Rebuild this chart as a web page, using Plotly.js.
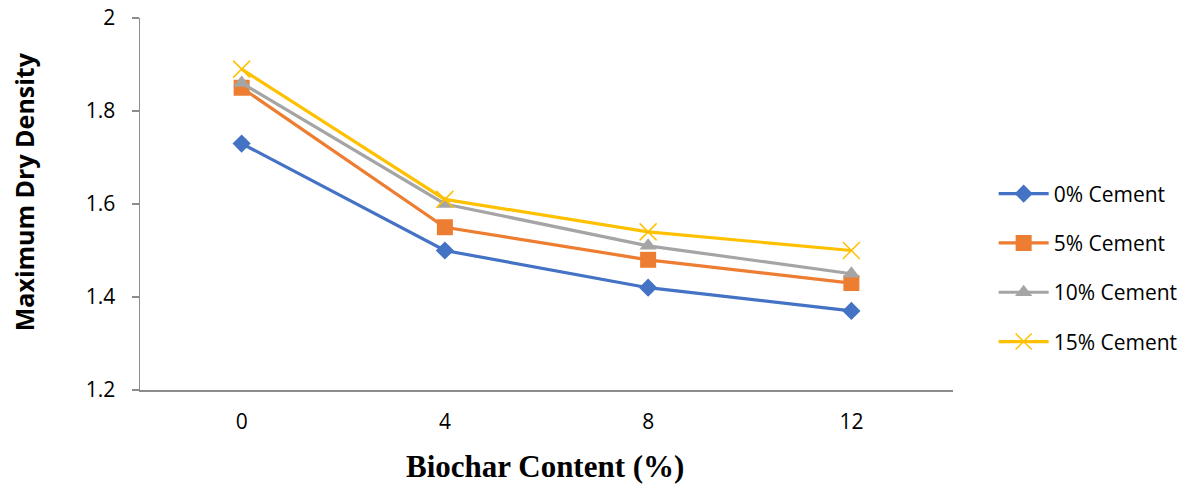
<!DOCTYPE html>
<html><head><meta charset="utf-8">
<script src="https://cdn.plot.ly/plotly-3.0.1.min.js"></script>
<style>html,body{margin:0;padding:0;background:#fff}#chart{width:1203px;height:484px}</style>
</head><body><div id="chart"></div>
<script>
const categories = ["0", "4", "8", "12"];
const seriesNames = ["0% Cement", "5% Cement", "10% Cement", "15% Cement"];
const cement0 = [1.73, 1.50, 1.42, 1.37];
const cement5 = [1.85, 1.55, 1.48, 1.43];
const cement10 = [1.86, 1.60, 1.51, 1.45];
const cement15 = [1.89, 1.61, 1.54, 1.50];
const xTitle = "Biochar Content (%)";
const yTitle = "Maximum Dry Density";

const colors = ["#4472C4", "#ED7D31", "#A5A5A5", "#FFC000"];
const symbols = ["diamond", "square", "triangle-up", "x-thin-open"];
const sizes = [14, 16, 15, 17];
const values = [cement0, cement5, cement10, cement15];

const traces = values.map((v, i) => ({
  x: categories, y: v, type: "scatter", mode: "lines+markers",
  name: seriesNames[i], legendgroup: "g" + i,
  line: {color: colors[i], width: 3.2},
  marker: {symbol: symbols[i], size: sizes[i], color: colors[i],
           line: {color: colors[i], width: i === 3 ? 1.5 : 0}}
}));

const layout = {
  width: 1203, height: 484,
  margin: {l: 140, r: 250, t: 18, b: 94},
  paper_bgcolor: "#fff", plot_bgcolor: "#fff",
  font: {family: "'Open Sans', 'Liberation Sans', sans-serif", color: "#000"},
  xaxis: {
    type: "category", range: [-0.5, 3.5],
    showline: true, linecolor: "#8C8C8C", linewidth: 1.5,
    ticks: "", showgrid: false, zeroline: false,
    tickfont: {size: 21, color: "#000"},
    ticklabelstandoff: 12
  },
  yaxis: {
    range: [1.2, 2], dtick: 0.2, tick0: 1.2,
    showline: true, linecolor: "#8C8C8C", linewidth: 1.5,
    ticks: "outside", ticklen: 7, tickcolor: "#8C8C8C", tickwidth: 1.5,
    showgrid: false, zeroline: false,
    tickfont: {size: 21, color: "#000"},
    ticklabelstandoff: 12
  },
  annotations: [
    {text: xTitle, xref: "paper", yref: "paper", x: 0.4985, y: -0.205,
     xanchor: "center", yanchor: "middle", showarrow: false,
     font: {family: "'Liberation Serif', 'Times New Roman', serif", size: 31, color: "#000", weight: "bold"}},
    {text: yTitle, xref: "paper", yref: "paper", x: -0.1425, y: 0.532, textangle: -90,
     xanchor: "center", yanchor: "middle", showarrow: false,
     font: {size: 25, color: "#000", weight: "bold"}}
  ],
  showlegend: true,
  legend: {
    x: 1.05, xanchor: "left", y: 0.328, yanchor: "middle",
    font: {size: 21, color: "#000"},
    traceorder: "grouped", tracegroupgap: 19,
    itemwidth: 50
  }
};

Plotly.newPlot("chart", traces, layout, {displayModeBar: false, staticPlot: true});
</script></body></html>
